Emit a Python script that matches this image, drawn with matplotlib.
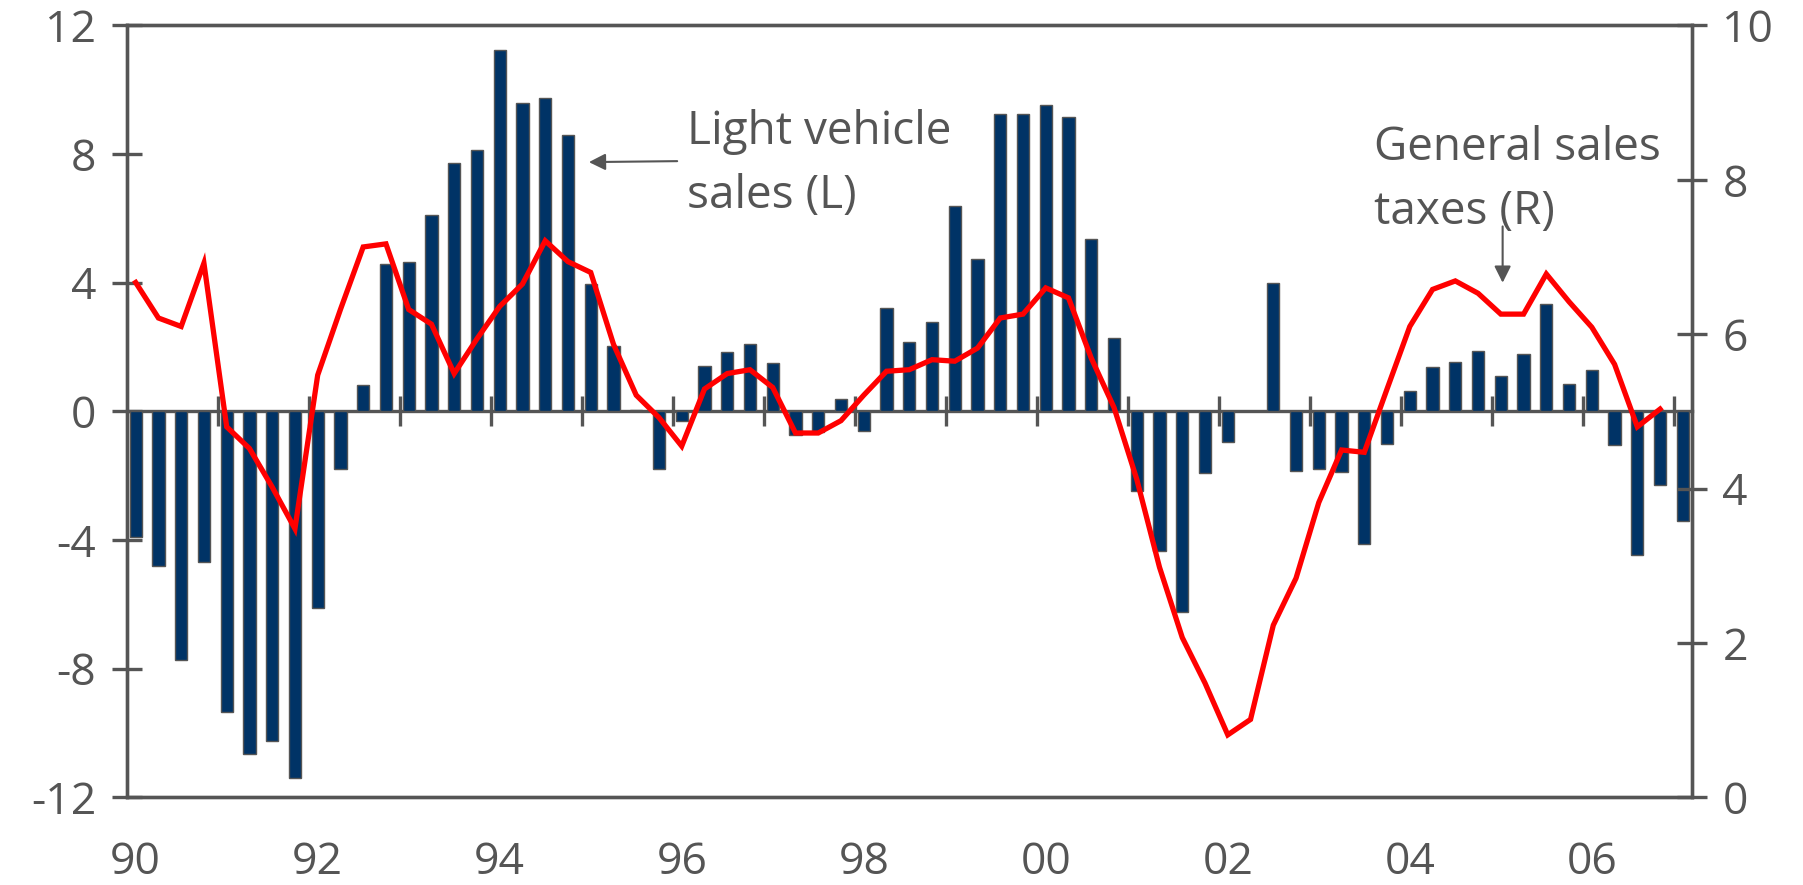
import numpy as np
import matplotlib
matplotlib.use("Agg")
import matplotlib.pyplot as plt

# ---------------- data ----------------
start_year = 1990  # quarterly data from 1990Q1
light_vehicle_sales = [
    -3.90, -4.82, -7.72, -4.68, -9.33, -10.65, -10.26, -11.39,
    -6.12, -1.79, 0.81, 4.58, 4.63, 6.12, 7.72, 8.14,
    11.23, 9.58, 9.75, 8.58, 3.95, 2.04, 0.05, -1.79,
    -0.30, 1.40, 1.84, 2.11, 1.49, -0.74, -0.65, 0.37,
    -0.61, 3.21, 2.16, 2.77, 6.37, 4.75, 9.26, 9.26,
    9.53, 9.14, 5.37, 2.28, -2.49, -4.33, -6.23, -1.93,
    -0.95, 0.00, 4.00, -1.84, -1.79, -1.88, -4.11, -1.00,
    0.63, 1.37, 1.54, 1.89, 1.11, 1.79, 3.33, 0.84,
    1.28, -1.05, -4.47, -2.28, -3.40,
]
general_sales_taxes = [
    6.67, 6.21, 6.10, 6.92, 4.80, 4.52, 4.02, 3.48,
    5.47, 6.32, 7.13, 7.17, 6.32, 6.13, 5.49, 5.94,
    6.36, 6.65, 7.21, 6.94, 6.80, 5.87, 5.21, 4.92,
    4.55, 5.29, 5.49, 5.54, 5.31, 4.72, 4.72, 4.88,
    5.21, 5.52, 5.54, 5.67, 5.65, 5.82, 6.21, 6.26,
    6.60, 6.47, 5.69, 5.05, 4.12, 2.98, 2.07, 1.48,
    0.81, 1.01, 2.23, 2.84, 3.82, 4.50, 4.47, 5.29,
    6.10, 6.58, 6.69, 6.53, 6.26, 6.26, 6.78, 6.42,
    6.09, 5.61, 4.80, 5.03,
]
left_ticks = [-12, -8, -4, 0, 4, 8, 12]
right_ticks = [0, 2, 4, 6, 8, 10]
year_labels = ["90", "92", "94", "96", "98", "00", "02", "04", "06"]
label_years = [1990, 1992, 1994, 1996, 1998, 2000, 2002, 2004, 2006]
minor_years = list(range(1991, 2008))

# ---------------- style ----------------
GRAY = "#555555"
TEXT = "#555555"
NAVY = "#003366"
RED = "#ff0000"
plt.rcParams["font.family"] = ["Open Sans", "DejaVu Sans"]
TICK_FS = 32
ANN_FS = 33

fig = plt.figure(figsize=(18.03, 8.85), dpi=100)
ax = fig.add_axes([0.0702, 0.099, 0.9384 - 0.0702, 0.9713 - 0.099])

n_bars = len(light_vehicle_sales)
x_bars = start_year + (np.arange(n_bars) + 0.4) / 4.0
x_line = start_year + (np.arange(len(general_sales_taxes)) + 0.4) / 4.0

ax.bar(x_bars, light_vehicle_sales, width=0.135, color=NAVY,
       edgecolor=GRAY, linewidth=1.0, zorder=2)

ax.set_xlim(1990.0, 2007.2)
ax.set_ylim(-12, 12)
ax.set_yticks(left_ticks)
ax.set_yticklabels([str(t) for t in left_ticks])

# bottom labels centred on Q1 bar of each labelled year
ax.set_xticks([y + 0.1 for y in label_years])
ax.set_xticklabels(year_labels)
ax.tick_params(axis="x", length=0, pad=31, labelsize=TICK_FS, labelcolor=TEXT)
ax.tick_params(axis="y", direction="inout", length=22, width=2.4,
               color=GRAY, pad=11, labelsize=TICK_FS, labelcolor=TEXT)

for s in ax.spines.values():
    s.set_color(GRAY)
    s.set_linewidth(2.4)

# zero line with yearly tick marks
zero_ax = ax.secondary_xaxis(0.5)
zero_ax.set_xticks(minor_years)
zero_ax.set_xticklabels([])
zero_ax.tick_params(direction="inout", length=21, width=2.4, color=GRAY)
for side in ("bottom", "top"):
    zero_ax.spines[side].set_color(GRAY)
    zero_ax.spines[side].set_linewidth(2.4)

# right axis
ax2 = ax.twinx()
ax2.plot(x_line, general_sales_taxes, color=RED, linewidth=3.8, zorder=3,
         solid_joinstyle="miter")
ax2.set_ylim(0, 10)
ax2.set_yticks(right_ticks)
ax2.set_yticklabels([str(t) for t in right_ticks])
ax2.tick_params(axis="y", direction="inout", length=22, width=2.4,
                color=GRAY, pad=11, labelsize=TICK_FS, labelcolor=TEXT)
for s in ax2.spines.values():
    s.set_color(GRAY)
    s.set_linewidth(2.4)

# annotations
ax.text(1996.16, 9.4, "Light vehicle\nsales (L)", fontsize=ANN_FS, color=TEXT,
        ha="left", va="top", linespacing=1.5)
ax.annotate("", xy=(1995.08, 7.75), xytext=(1996.05, 7.78),
            arrowprops=dict(arrowstyle="-|>", color=GRAY, lw=1.5,
                            mutation_scale=25, shrinkA=0, shrinkB=0))
ax.text(2003.71, 8.9, "General sales\ntaxes (R)", fontsize=ANN_FS, color=TEXT,
        ha="left", va="top", linespacing=1.5)
ax.annotate("", xy=(2005.12, 4.0), xytext=(2005.12, 5.75),
            arrowprops=dict(arrowstyle="-|>", color=GRAY, lw=1.5,
                            mutation_scale=25, shrinkA=0, shrinkB=0))

fig.savefig("out.png", dpi=100)
